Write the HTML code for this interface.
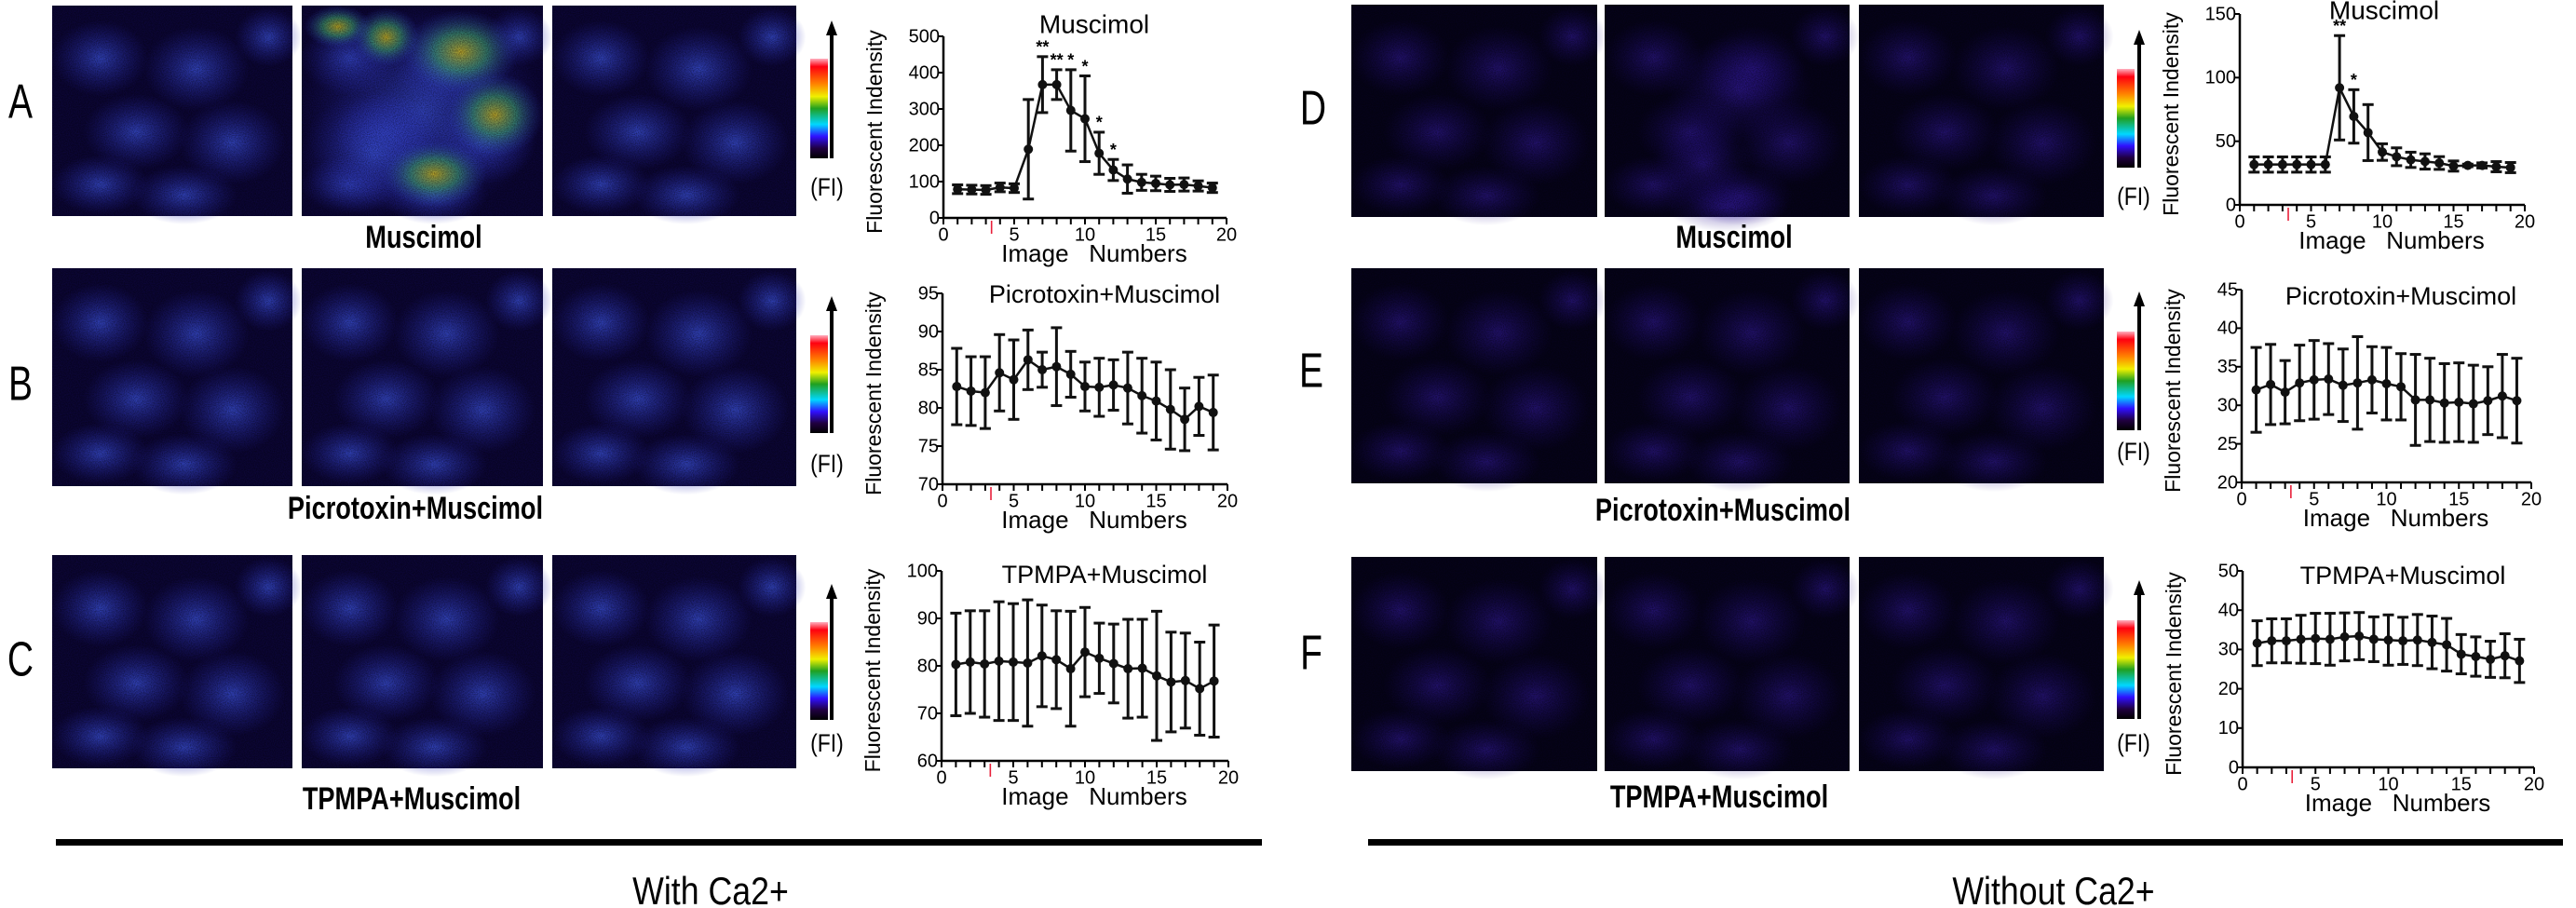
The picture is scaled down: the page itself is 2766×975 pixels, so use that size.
<!DOCTYPE html>
<html><head><meta charset="utf-8">
<style>
html,body{margin:0;padding:0;background:#fff;}
svg{display:block;}
text{font-family:"Liberation Sans",Arial,sans-serif;fill:#000;}
</style></head>
<body>
<svg id="fig" width="2766" height="975" viewBox="0 0 2766 975" xmlns="http://www.w3.org/2000/svg">
<defs>
  <linearGradient id="cbar" x1="0" y1="0" x2="0" y2="1">
    <stop offset="0" stop-color="#ffb0c0"/>
    <stop offset="0.08" stop-color="#ff0010"/>
    <stop offset="0.25" stop-color="#ff8000"/>
    <stop offset="0.38" stop-color="#f0f000"/>
    <stop offset="0.5" stop-color="#20a020"/>
    <stop offset="0.66" stop-color="#00d8ff"/>
    <stop offset="0.78" stop-color="#3010ff"/>
    <stop offset="0.9" stop-color="#200040"/>
    <stop offset="1" stop-color="#000"/>
  </linearGradient>
  <radialGradient id="blobL"><stop offset="0" stop-color="#3a50d8" stop-opacity="0.8"/><stop offset="1" stop-color="#2828b0" stop-opacity="0"/></radialGradient>
  <radialGradient id="blobHot"><stop offset="0" stop-color="#c8b020" stop-opacity="0.9"/><stop offset="0.45" stop-color="#40a070" stop-opacity="0.7"/><stop offset="1" stop-color="#3040d0" stop-opacity="0"/></radialGradient>
  <radialGradient id="blobR"><stop offset="0" stop-color="#3a1eb0" stop-opacity="0.55"/><stop offset="1" stop-color="#200a80" stop-opacity="0"/></radialGradient>
  <filter id="noise" x="0" y="0" width="100%" height="100%">
    <feTurbulence type="fractalNoise" baseFrequency="0.9" numOctaves="1" seed="3" result="n"/>
    <feColorMatrix type="matrix" values="0 0 0 0 0  0 0 0 0 0  0 0 0 0 0  0 0 0 -1.6 1.1"/>
  </filter>
</defs>
<g id="panels"></g>
<g id="deco"></g>
<g id="charts"></g>
</svg>
<script>
// ---------- chart data ----------
const xCats = [1,2,3,4,5,6,7,8,9,10,11,12,13,14,15,16,17,18,19];
const xTicks = [0,5,10,15,20];
const aMean = [79,78,77,84,82,189,367,367,296,273,178,132,107,98,95,91,92,88,83];
const aErr  = [12,12,12,12,12,137,77,41,112,118,58,29,39,22,20,18,18,14,13];
const aStars = ["","","","","","","**","**","*","*","*","*","","","","","","",""];
const aTicks = [0,100,200,300,400,500];
const bMean = [82.8,82.2,82.0,84.6,83.7,86.3,85.0,85.4,84.4,82.8,82.7,83.0,82.6,81.6,80.9,79.8,78.5,80.2,79.4];
const bErr  = [5,4.5,4.7,5,5.2,3.9,2.3,5.1,3,3.2,3.8,3.3,4.7,4.9,5.1,5.2,4.1,3.8,4.9];
const bTicks = [70,75,80,85,90,95];
const cMean = [80.3,80.8,80.4,81.0,80.8,80.6,82.1,81.3,79.4,82.9,81.6,80.5,79.4,79.5,77.9,76.6,76.9,75.2,76.8];
const cErr  = [10.8,10.8,11.2,12.5,12.3,13.3,10.7,10.3,12.1,9.4,7.4,8.3,10.4,10.3,13.6,10.5,10,9.8,11.8];
const cTicks = [60,70,80,90,100];
const dMean = [31.7,31.7,31.7,31.7,31.7,31.7,92,69.5,56.8,41.5,37.8,35.4,34.1,32.9,30.5,31,31,30,29.3];
const dErr  = [6,6,6,6,6,6,41,21,22,6.5,7,6,6,5,4,1,2,4,4];
const dStars = ["","","","","","","**","*","","","","","","","","","","",""];
const dTicks = [0,50,100,150];
const eMean = [32.0,32.7,31.7,32.9,33.3,33.4,32.6,32.9,33.3,32.8,32.4,30.7,30.7,30.3,30.4,30.2,30.6,31.2,30.6];
const eErr  = [5.5,5.2,4.1,4.9,5.1,4.6,4.7,6,4.3,4.7,4.3,5.9,5.4,5.1,5.1,5,4.4,5.4,5.5];
const eTicks = [20,25,30,35,40,45];
const fMean = [31.6,32.2,32.2,32.6,32.8,32.6,33.2,33.4,32.6,32.4,32.2,32.4,31.8,31.2,28.8,28.2,27.5,28.4,27.1];
const fErr  = [5.7,5.6,5.6,6.1,6.4,6.6,6.1,6,5.7,6.4,6,6.5,6.7,6.7,5,5,4.6,5.6,5.5];
const fTicks = [0,10,20,30,40,50];
const stimulusAt = 3.4;

const NS = "http://www.w3.org/2000/svg";
function mk(tag, attrs, parent){
  const e = document.createElementNS(NS, tag);
  for (const k in attrs) e.setAttribute(k, attrs[k]);
  parent.appendChild(e);
  return e;
}

// ---------- image panels ----------
const panelsG = document.getElementById('panels');
const leftXs = [[56,314],[324,583],[593,855]];
const leftYs = [[6,232],[288,522],[596,825]];
const rightXs = [[1451,1715],[1723,1986],[1996,2259]];
const rightYs = [[5,233],[288,519],[598,828]];
const rowNames = ['a','b','c','d','e','f'];
function blobs(g, x0,y0,w,h, grad, list){
  list.forEach(b=>{
    const c = mk('ellipse',{cx:x0+b[0]*w, cy:y0+b[1]*h, rx:b[2]*w, ry:b[3]*h, fill:'url(#'+grad+')'}, g);
    
    
  });
}
const stdBlobs = [[0.2,0.25,0.2,0.18],[0.6,0.3,0.22,0.2],[0.35,0.6,0.22,0.18],[0.75,0.65,0.22,0.2],[0.2,0.85,0.2,0.14],[0.55,0.9,0.22,0.14],[0.9,0.15,0.14,0.14]];
function drawPanels(xs, ys, side){
  ys.forEach((yy,ri)=>{
    xs.forEach((xx,ci)=>{
      const g = mk('g',{},panelsG);
      
      
      const w=xx[1]-xx[0], h=yy[1]-yy[0];
      mk('rect',{x:xx[0],y:yy[0],width:w,height:h,fill: side===0?'#0c0636':'#06031a'},g);
      blobs(g,xx[0],yy[0],w,h, side===0?'blobL':'blobR', stdBlobs);
      if(side===0 && ri===0 && ci===1){
        blobs(g,xx[0],yy[0],w,h,'blobL',[[0.5,0.5,0.5,0.5],[0.3,0.7,0.3,0.3]]);
        blobs(g,xx[0],yy[0],w,h,'blobHot',[[0.66,0.22,0.24,0.2],[0.8,0.52,0.2,0.2],[0.55,0.8,0.22,0.16],[0.15,0.1,0.14,0.1],[0.35,0.15,0.14,0.14]]);
      }
      if(side===1 && ri===0 && ci===1){
        blobs(g,xx[0],yy[0],w,h,'blobR',[[0.55,0.4,0.3,0.25],[0.4,0.75,0.2,0.2],[0.5,0.95,0.25,0.12]]);
      }
      mk('rect',{x:xx[0],y:yy[0],width:w,height:h,filter:'url(#noise)',opacity:0.55},g);
    });
  });
}
drawPanels(leftXs,leftYs,0);
drawPanels(rightXs,rightYs,1);

// ---------- decorations ----------
const deco = document.getElementById('deco');
function txt(parent, x, y, s, size, opts){
  opts = opts||{};
  const t = mk('text',{x:x,y:y,'font-size':size,'text-anchor':opts.anchor||'middle','dominant-baseline':'middle'},parent);
  if(opts.weight) t.setAttribute('font-weight',opts.weight);
  if(opts.sx){ t.setAttribute('transform','translate('+x+' '+y+') scale('+opts.sx+' 1) translate('+(-x)+' '+(-y)+')'); }
  if(opts.rot){ t.setAttribute('transform','rotate(-90 '+x+' '+y+')'); }
  t.textContent = s;
  return t;
}
const letters = [['A',22,113],['B',22,416],['C',22,712],['D',1410,120],['E',1408,402],['F',1408,705]];
letters.forEach(l=>{
  const t = txt(deco,l[1],l[2],l[0],52,{sx:0.75});
  
  
});
const condLabels = [['Muscimol',455,257],['Picrotoxin+Muscimol',446,548],['TPMPA+Muscimol',442,860],
                    ['Muscimol',1862,257],['Picrotoxin+Muscimol',1850,550],['TPMPA+Muscimol',1846,858]];
condLabels.forEach((l,i)=>{
  const t = txt(deco,l[1],l[2],l[0],34,{sx:0.8,weight:'bold'});
  
  
});
const cbars = [[870,63,170,22,893,203],[870,360,465,318,893,500],[870,668,773,627,893,800],
               [2273,74,180,32,2297,213],[2273,356,462,313,2297,487],[2273,666,772,623,2297,800]];
cbars.forEach((c,i)=>{
  const g = mk('g',{},deco);
  
  
  mk('rect',{x:c[0],y:c[1],width:19,height:c[2]-c[1],fill:'url(#cbar)'},g);
  mk('line',{x1:c[4],y1:c[2],x2:c[4],y2:c[3]+14,stroke:'#000','stroke-width':4},g);
  mk('polygon',{points:(c[4]-6)+','+(c[3]+16)+' '+(c[4]+6)+','+(c[3]+16)+' '+c[4]+','+c[3],fill:'#000'},g);
  const t = txt(g,c[0]+18,c[5],'(FI)',27,{sx:0.85});
  
  
});
const l1 = mk('rect',{x:60,y:901,width:1295,height:7,fill:'#000'},deco);


const l2 = mk('rect',{x:1469,y:901,width:1283,height:7,fill:'#000'},deco);


const g1 = txt(deco,763,960,'With Ca2+',42,{sx:0.85});


const g2 = txt(deco,2205,960,'Without Ca2+',42,{sx:0.85});



// ---------- charts ----------
const chartsG = document.getElementById('charts');
function chart(cfg){
  const g = mk('g',{},chartsG);
  
  
  const ymin = cfg.ticks[0], ymax = cfg.ticks[cfg.ticks.length-1];
  const sx = v => cfg.x0 + (v-0)/(20-0)*(cfg.x1-cfg.x0);
  const sy = v => cfg.yb + (v-ymin)/(ymax-ymin)*(cfg.yt-cfg.yb);
  const ya = mk('line',{x1:cfg.x0,y1:cfg.yb+1,x2:cfg.x0,y2:cfg.yt,stroke:'#000','stroke-width':2.5},g);
  
  
  const xa = mk('line',{x1:cfg.x0,y1:cfg.yb,x2:cfg.x1,y2:cfg.yb,stroke:'#000','stroke-width':2.5},g);
  
  
  cfg.ticks.forEach(t=>{
    mk('line',{x1:cfg.x0-6,y1:sy(t),x2:cfg.x0,y2:sy(t),stroke:'#000','stroke-width':2},g);
    const tl = txt(g,cfg.x0-4,sy(t)+1,String(t),20,{anchor:'end'});
    
    
  });
  for(let i=0;i<=20;i++){
    mk('line',{x1:sx(i),y1:cfg.yb,x2:sx(i),y2:cfg.yb+7,stroke:'#000','stroke-width':2},g);
  }
  xTicks.forEach(t=>{
    const tl = txt(g,sx(t),cfg.yb+19,String(t),20);
    
    
  });
  const st = mk('line',{x1:sx(stimulusAt),y1:cfg.yb+3,x2:sx(stimulusAt),y2:cfg.yb+17,stroke:'#e8203a','stroke-width':1.6},g);
  
  
  const xt = txt(g,(cfg.x0+cfg.x1)/2+10,cfg.yb+40,'Image\u00a0\u00a0\u00a0Numbers',26);
  
  
  const yt = txt(g,cfg.x0-72,(cfg.yt+cfg.yb)/2+5,'Fluorescent Indensity',23,{rot:true});
  
  
  const tt = txt(g,cfg.tx,cfg.ty,cfg.title,cfg.tsize||27);
  
  
  let d='';
  xCats.forEach((x,i)=>{ d += (i?'L':'M')+sx(x)+','+sy(cfg.mean[i]); });
  const ln = mk('path',{d:d,fill:'none',stroke:'#111','stroke-width':2.5},g);
  
  
  xCats.forEach((x,i)=>{
    const eg = mk('g',{},g);
    
    
    const cx=sx(x), top=sy(cfg.mean[i]+cfg.err[i]), bot=sy(cfg.mean[i]-cfg.err[i]);
    mk('line',{x1:cx,y1:top,x2:cx,y2:bot,stroke:'#111','stroke-width':3},eg);
    mk('line',{x1:cx-6,y1:top,x2:cx+6,y2:top,stroke:'#111','stroke-width':3},eg);
    mk('line',{x1:cx-6,y1:bot,x2:cx+6,y2:bot,stroke:'#111','stroke-width':3},eg);
    const p = mk('circle',{cx:cx,cy:sy(cfg.mean[i]),r:5,fill:'#111'},g);
    
    
    if(cfg.stars && cfg.stars[i]){
      const s = txt(g,cx,top-9,cfg.stars[i],18,{weight:'bold'});
      
      
    }
  });
}
chart({id:'a',x0:1013,x1:1317,yt:39,yb:234,ticks:aTicks,mean:aMean,err:aErr,stars:aStars,title:'Muscimol',tx:1175,ty:28,tsize:28});
chart({id:'b',x0:1012,x1:1318,yt:315,yb:520,ticks:bTicks,mean:bMean,err:bErr,title:'Picrotoxin+Muscimol',tx:1186,ty:318});
chart({id:'c',x0:1011,x1:1319,yt:613,yb:817,ticks:cTicks,mean:cMean,err:cErr,title:'TPMPA+Muscimol',tx:1186,ty:619});
chart({id:'d',x0:2405,x1:2711,yt:15,yb:220,ticks:dTicks,mean:dMean,err:dErr,stars:dStars,title:'Muscimol',tx:2560,ty:13,tsize:28});
chart({id:'e',x0:2407,x1:2718,yt:311,yb:518,ticks:eTicks,mean:eMean,err:eErr,title:'Picrotoxin+Muscimol',tx:2578,ty:320});
chart({id:'f',x0:2408,x1:2721,yt:613,yb:824,ticks:fTicks,mean:fMean,err:fErr,title:'TPMPA+Muscimol',tx:2580,ty:620});
</script>
</body></html>
